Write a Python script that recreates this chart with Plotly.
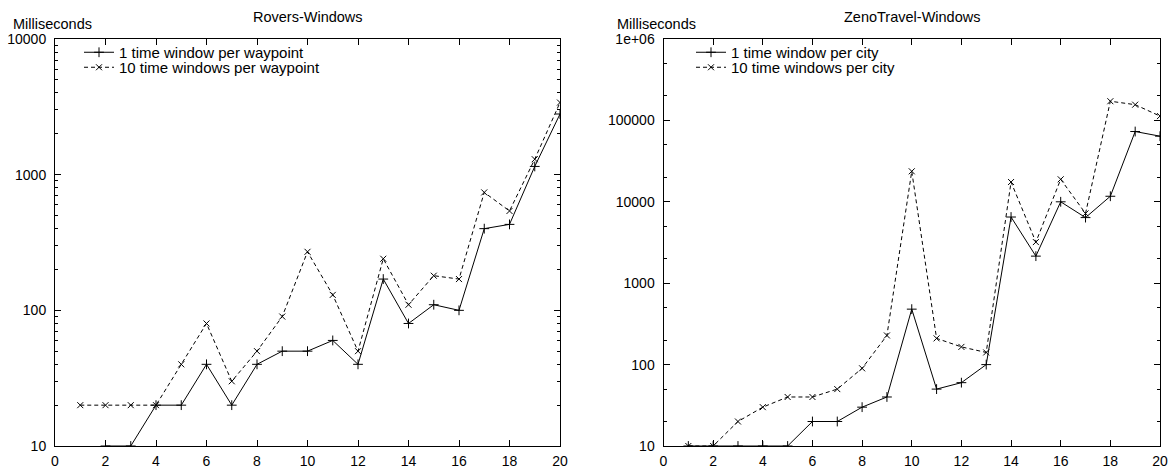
import plotly.graph_objects as go

# ---- data ----
rovers_x1 = list(range(2, 21))
rovers_1tw = [10, 10, 20, 20, 40, 20, 40, 50, 50, 60, 40, 170, 80, 110, 100, 400, 430, 1150, 2800]
rovers_x10 = list(range(1, 21))
rovers_10tw = [20, 20, 20, 20, 40, 80, 30, 50, 90, 270, 130, 50, 240, 110, 180, 170, 740, 540, 1300, 3400]

zeno_x = list(range(1, 21))
zeno_1tw = [10, 10, 10, 10, 10, 20, 20, 30, 40, 480, 50, 60, 100, 6500, 2150, 10000, 6400, 11700, 73000, 64000]
zeno_10tw = [10, 10, 20, 30, 40, 40, 50, 90, 228, 23700, 210, 165, 141, 17500, 3200, 18900, 7200, 172000, 156000, 113000]

x_ticks = list(range(0, 21, 2))
rovers_yticks = [10, 100, 1000, 10000]
rovers_ytext = ["10", "100", "1000", "10000"]
zeno_yticks = [10, 100, 1000, 10000, 100000, 1000000]
zeno_ytext = ["10", "100", "1000", "10000", "100000", "1e+06"]

FONT = "Liberation Sans, Arial, Helvetica, sans-serif"
W, H = 1171, 468

fig = go.Figure()

def add_pair(x1, y1, name1, x2, y2, name2, xa, ya, leg1, leg2):
    fig.add_trace(go.Scatter(
        x=x1, y=y1, name=name1, mode="lines+markers",
        line=dict(color="black", width=1),
        marker=dict(symbol="cross-thin", size=7, line=dict(color="black", width=1)),
        xaxis=xa, yaxis=ya, legend=leg1, cliponaxis=True))
    fig.add_trace(go.Scatter(
        x=x2, y=y2, name=name2, mode="lines+markers",
        line=dict(color="black", width=1, dash="4px,3px"),
        marker=dict(symbol="x-thin", size=6, line=dict(color="black", width=1)),
        xaxis=xa, yaxis=ya, legend=leg2, cliponaxis=True))

add_pair(rovers_x1, rovers_1tw, "1 time window per waypoint",
         rovers_x10, rovers_10tw, "10 time windows per waypoint", "x", "y", "legend", "legend2")
add_pair(zeno_x, zeno_1tw, "1 time window per city",
         zeno_x, zeno_10tw, "10 time windows per city", "x2", "y2", "legend3", "legend4")

ydom = [1 - 446 / H, 1 - 39 / H]

axis_common = dict(
    showline=True, linecolor="black", linewidth=1, mirror="allticks",
    ticks="inside", ticklen=6, tickcolor="black", tickwidth=1,
    showgrid=False, zeroline=False, automargin=False,
    tickfont=dict(family=FONT, size=14, color="black"),
)

xax = dict(axis_common, range=[0, 20], tickvals=x_ticks, ticklabelstandoff=2)
yminor1 = dict(ticks="inside", ticklen=3, tickcolor="black", dtick="D1", showgrid=False)
yminor2 = dict(ticks="inside", ticklen=3, tickcolor="black", dtick="D2", showgrid=False)
fig.update_layout(
    xaxis=dict(xax, domain=[55 / W, 560 / W], anchor="y"),
    xaxis2=dict(xax, domain=[663.5 / W, 1160 / W], anchor="y2"),
    yaxis=dict(axis_common, type="log", range=[1, 4], domain=ydom, anchor="x",
               tickvals=rovers_yticks, ticktext=rovers_ytext, ticklabelstandoff=5,
               minor=yminor1),
    yaxis2=dict(axis_common, type="log", range=[1, 6], domain=ydom, anchor="x2",
                tickvals=zeno_yticks, ticktext=zeno_ytext, ticklabelstandoff=5,
                minor=yminor2),
)

legend_common = dict(
    bgcolor="rgba(0,0,0,0)", borderwidth=0,
    font=dict(family=FONT, size=15, color="black"),
    xanchor="left", yanchor="top", tracegroupgap=0,
)
row1_top, row2_top = 36, 51
fig.update_layout(
    legend=dict(legend_common, x=79 / W, y=1 - row1_top / H),
    legend2=dict(legend_common, x=79 / W, y=1 - row2_top / H),
    legend3=dict(legend_common, x=691 / W, y=1 - row1_top / H),
    legend4=dict(legend_common, x=691 / W, y=1 - row2_top / H),
)

annots = [
    dict(text="Rovers-Windows", x=308 / W, y=1 - 17 / H),
    dict(text="ZenoTravel-Windows", x=912 / W, y=1 - 17 / H),
    dict(text="Milliseconds", x=52 / W, y=1 - 24 / H),
    dict(text="Milliseconds", x=656 / W, y=1 - 24 / H),
]
for a in annots:
    fig.add_annotation(xref="paper", yref="paper", showarrow=False,
                       xanchor="center", yanchor="middle",
                       font=dict(family=FONT, size=14.5, color="black"), **a)

fig.update_layout(
    width=W, height=H,
    margin=dict(l=0, r=0, t=0, b=0, autoexpand=False),
    paper_bgcolor="white", plot_bgcolor="white",
    showlegend=True,
)

fig.write_html("out.html", config={"displayModeBar": False},
               post_script="document.body.style.margin='0';document.body.style.overflow='hidden';")
